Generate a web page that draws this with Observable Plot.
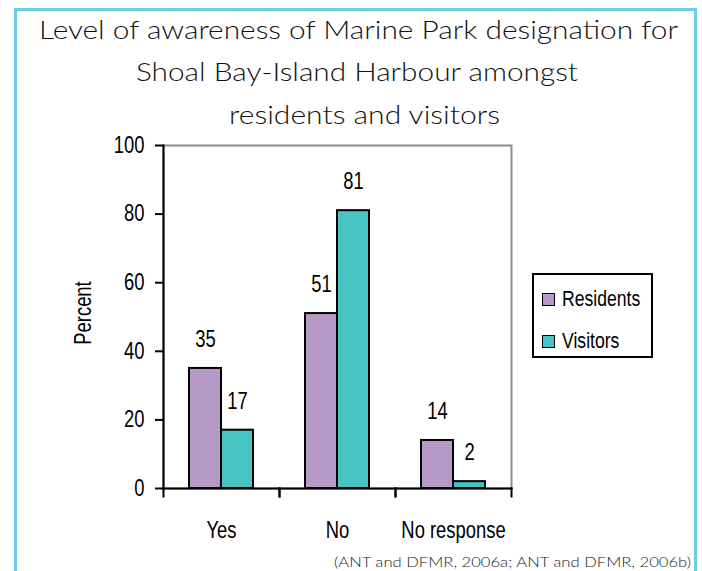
<!DOCTYPE html>
<html>
<head>
<meta charset="utf-8">
<script src="https://cdn.jsdelivr.net/npm/d3@7"></script>
<script src="https://cdn.jsdelivr.net/npm/@observablehq/plot@0.6"></script>
<style>
  html, body { margin: 0; padding: 0; background: #fff; }
  body { width: 702px; height: 571px; position: relative; overflow: hidden; }
  #box { position: absolute; left: 14px; top: 8px; width: 677px; height: 600px; border: 3px solid #6ccde6; }
  .tline { position: absolute; white-space: nowrap; font-family: "Lato", "Open Sans", sans-serif; font-weight: 300;
           font-size: 25px; line-height: 30px; color: #111; transform-origin: 0 50%; letter-spacing: 0px; }
  #chart { position: absolute; left: 0; top: 130px; }
  #legend { position: absolute; left: 532px; top: 273px; width: 121px; height: 85px; border: 2px solid #000; box-sizing: border-box; }
  .item { position: absolute; left: 8px; height: 24px; display: flex; align-items: center; }
  .sw { width: 11px; height: 11px; border: 1.5px solid #000; margin-right: 7px; flex: none; }
  .lt { font-family: "Liberation Sans", Arial, sans-serif; font-size: 22px; color: #000; display: inline-block;
        transform: scaleX(0.8); transform-origin: 0 50%; white-space: nowrap; }
  #caption { position: absolute; top: 553px; white-space: nowrap; font-family: "Lato", "Open Sans", sans-serif; font-weight: 300;
             font-size: 14px; line-height: 18px; color: #222; transform-origin: 0 50%; }
</style>
</head>
<body>
<div id="box"></div>
<div id="t1" class="tline" style="top:14px">Level of awareness of Marine Park designation for</div>
<div id="t2" class="tline" style="top:56px">Shoal Bay-Island Harbour amongst</div>
<div id="t3" class="tline" style="top:99px">residents and visitors</div>
<div id="chart"></div>
<div id="legend"></div>
<div id="caption">(ANT and DFMR, 2006a; ANT and DFMR, 2006b)</div>
<script>
const categories = ["Yes", "No", "No response"];
const seriesNames = ["Residents", "Visitors"];
const residents = [35, 51, 14];
const visitors = [17, 81, 2];
const yTicks = [0, 20, 40, 60, 80, 100];
const colors = ["#b799c8", "#48c3c4"];

const data = [];
categories.forEach((c, i) => {
  data.push({category: c, series: seriesNames[0], value: residents[i]});
  data.push({category: c, series: seriesNames[1], value: visitors[i]});
});

const font = '"Liberation Sans", Arial, sans-serif';

const plot = Plot.plot({
  width: 702,
  height: 420,
  marginTop: 15,
  marginBottom: 62,
  marginLeft: 163,
  marginRight: 191,
  style: {fontFamily: font, fontSize: "23px", color: "#000", background: "transparent", overflow: "visible"},
  fx: {domain: categories, padding: 0, label: null},
  x: {domain: seriesNames, paddingInner: 0, paddingOuter: 0.76, axis: null},
  y: {domain: [0, 100], ticks: yTicks, label: null},
  color: {domain: seriesNames, range: colors},
  marks: [
    Plot.frame({facet: "super", stroke: "#8c8c8c", strokeWidth: 2}),
    Plot.barY(data, {fx: "category", x: "series", y: "value", fill: "series", stroke: "#000", strokeWidth: 2}),
    Plot.text(data, {fx: "category", x: "series", y: "value", text: d => String(d.value), dy: -29,
      fontSize: 23, fill: "#000"}),
    Plot.frame({facet: "super", anchor: "left", stroke: "#000", strokeWidth: 2}),
    Plot.frame({facet: "super", anchor: "bottom", stroke: "#000", strokeWidth: 2}),
    Plot.frame({anchor: "left", stroke: "#000", strokeWidth: 2, insetTop: 343, insetBottom: -8}),
    Plot.frame({anchor: "right", stroke: "#000", strokeWidth: 2, insetTop: 343, insetBottom: -8}),
    Plot.axisY({ticks: yTicks, tickSize: 8, tickPadding: 11, strokeWidth: 2, fontSize: 23, label: null}),
    Plot.axisFx({anchor: "bottom", tickSize: 0, tickPadding: 33, fontSize: 23, label: null})
  ]
});
document.getElementById("chart").appendChild(plot);

// Y label
const svg = d3.select(plot);
svg.append("text")
  .attr("transform", "translate(83,183) rotate(-90)")
  .attr("text-anchor", "middle")
  .attr("dominant-baseline", "central")
  .attr("font-family", font)
  .attr("font-size", 23)
  .attr("fill", "#000")
  .text("Percent");

// condense chart texts (Arial Narrow look)
plot.querySelectorAll("text").forEach(t => {
  const len = t.getComputedTextLength();
  if (len > 0) {
    t.setAttribute("textLength", (len * 0.8).toFixed(2));
    t.setAttribute("lengthAdjust", "spacingAndGlyphs");
  }
});

// Legend from color scale
const color = plot.scale("color");
const legend = document.getElementById("legend");
seriesNames.forEach((s, i) => {
  const it = document.createElement("div");
  it.className = "item";
  it.style.top = (i === 0 ? 12 : 54) + "px";
  const sw = document.createElement("div");
  sw.className = "sw";
  sw.style.background = color.apply(s);
  const t = document.createElement("span");
  t.className = "lt";
  t.textContent = s;
  it.appendChild(sw); it.appendChild(t);
  legend.appendChild(it);
});

// fit title lines and caption to the reference extents
function fit(id, x0, x1) {
  const el = document.getElementById(id);
  const w = el.getBoundingClientRect().width;
  el.style.left = x0 + "px";
  el.style.transform = `scaleX(${(x1 - x0) / w})`;
}
fit("t1", 39, 678);
fit("t2", 136, 578);
fit("t3", 229, 500);
fit("caption", 334, 691);
</script>
</body>
</html>
